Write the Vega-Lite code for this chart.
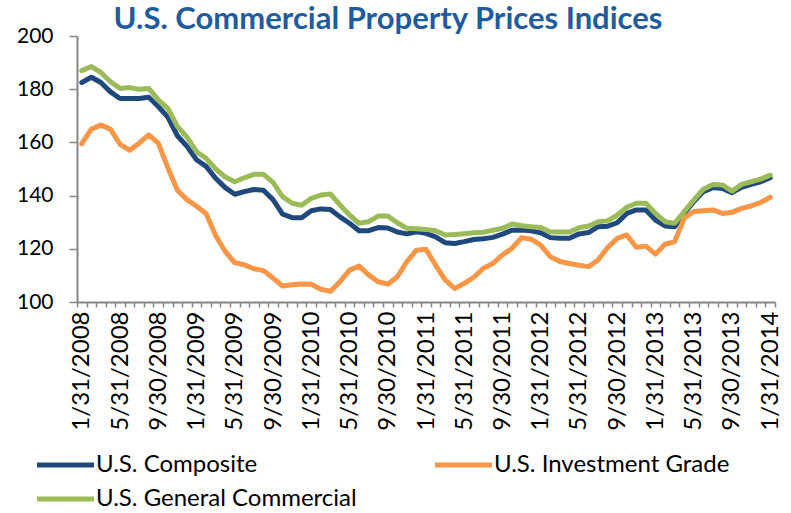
{
  "$schema": "https://vega.github.io/schema/vega-lite/v6.json",
  "width": 698,
  "height": 266,
  "autosize": {"type": "none"},
  "padding": {"left": 77, "top": 36, "right": 16, "bottom": 211},
  "background": "white",
  "title": {
    "text": "U.S. Commercial Property Prices Indices",
    "font": "Lato",
    "fontSize": 31,
    "fontWeight": "bold",
    "color": "#1F5C9E",
    "anchor": "middle",
    "baseline": "alphabetic",
    "dx": -38,
    "offset": -35
  },
  "config": {
    "view": {"stroke": null},
    "font": "Lato"
  },
  "data": {
    "values": [
      {"d": "1/31/2008", "a": 182.5, "b": 159.5, "c": 187},
      {"d": "2/29/2008", "a": 184.5, "b": 165, "c": 188.5},
      {"d": "3/31/2008", "a": 182.5, "b": 166.5, "c": 186.3},
      {"d": "4/30/2008", "a": 179, "b": 165, "c": 182.8},
      {"d": "5/31/2008", "a": 176.5, "b": 159.3, "c": 180.3},
      {"d": "6/30/2008", "a": 176.5, "b": 157.1, "c": 180.6},
      {"d": "7/31/2008", "a": 176.5, "b": 159.7, "c": 180},
      {"d": "8/31/2008", "a": 177, "b": 162.8, "c": 180.3},
      {"d": "9/30/2008", "a": 173.5, "b": 159.7, "c": 176},
      {"d": "10/31/2008", "a": 169.5, "b": 150.5, "c": 172.8},
      {"d": "11/30/2008", "a": 162.5, "b": 142, "c": 166},
      {"d": "12/31/2008", "a": 158.5, "b": 138.5, "c": 162},
      {"d": "1/31/2009", "a": 153.5, "b": 136, "c": 156.5},
      {"d": "2/28/2009", "a": 151, "b": 133.3, "c": 154},
      {"d": "3/31/2009", "a": 146.5, "b": 125, "c": 150},
      {"d": "4/30/2009", "a": 143, "b": 119, "c": 147},
      {"d": "5/31/2009", "a": 140.5, "b": 114.8, "c": 145.2},
      {"d": "6/30/2009", "a": 141.5, "b": 114, "c": 146.7},
      {"d": "7/31/2009", "a": 142.3, "b": 112.5, "c": 148},
      {"d": "8/31/2009", "a": 142, "b": 111.8, "c": 148},
      {"d": "9/30/2009", "a": 138.5, "b": 109, "c": 145},
      {"d": "10/31/2009", "a": 133, "b": 106, "c": 139.6},
      {"d": "11/30/2009", "a": 131.7, "b": 106.5, "c": 137.1},
      {"d": "12/31/2009", "a": 131.7, "b": 106.8, "c": 136.4},
      {"d": "1/31/2010", "a": 134.3, "b": 106.7, "c": 139},
      {"d": "2/28/2010", "a": 135, "b": 104.8, "c": 140.2},
      {"d": "3/31/2010", "a": 134.8, "b": 104, "c": 140.6},
      {"d": "4/30/2010", "a": 132, "b": 107.6, "c": 136.5},
      {"d": "5/31/2010", "a": 129.6, "b": 112, "c": 132.7},
      {"d": "6/30/2010", "a": 126.8, "b": 113.5, "c": 129.6},
      {"d": "7/31/2010", "a": 126.8, "b": 110.2, "c": 130.2},
      {"d": "8/31/2010", "a": 128, "b": 107.6, "c": 132.3},
      {"d": "9/30/2010", "a": 127.8, "b": 106.7, "c": 132.3},
      {"d": "10/31/2010", "a": 126.3, "b": 109.5, "c": 129.8},
      {"d": "11/30/2010", "a": 125.6, "b": 115.2, "c": 127.7},
      {"d": "12/31/2010", "a": 126.4, "b": 119.5, "c": 127.5},
      {"d": "1/31/2011", "a": 125.8, "b": 119.8, "c": 127.3},
      {"d": "2/28/2011", "a": 124.5, "b": 113.9, "c": 126.8},
      {"d": "3/31/2011", "a": 122.3, "b": 108.3, "c": 125.2},
      {"d": "4/30/2011", "a": 122, "b": 105.1, "c": 125.4},
      {"d": "5/31/2011", "a": 122.7, "b": 107, "c": 125.7},
      {"d": "6/30/2011", "a": 123.5, "b": 109.3, "c": 126},
      {"d": "7/31/2011", "a": 123.8, "b": 112.7, "c": 126.2},
      {"d": "8/31/2011", "a": 124.3, "b": 114.5, "c": 127},
      {"d": "9/30/2011", "a": 125.5, "b": 117.7, "c": 127.7},
      {"d": "10/31/2011", "a": 127, "b": 120.2, "c": 129.3},
      {"d": "11/30/2011", "a": 127.1, "b": 124.2, "c": 128.7},
      {"d": "12/31/2011", "a": 126.8, "b": 123.6, "c": 128.3},
      {"d": "1/31/2012", "a": 126, "b": 121.4, "c": 128},
      {"d": "2/29/2012", "a": 124.2, "b": 117, "c": 126.3},
      {"d": "3/31/2012", "a": 124, "b": 115.2, "c": 126.3},
      {"d": "4/30/2012", "a": 124, "b": 114.5, "c": 126.3},
      {"d": "5/31/2012", "a": 125.6, "b": 113.8, "c": 127.9},
      {"d": "6/30/2012", "a": 126.1, "b": 113.3, "c": 128.6},
      {"d": "7/31/2012", "a": 128.3, "b": 115.8, "c": 130.2},
      {"d": "8/31/2012", "a": 128.5, "b": 120.5, "c": 130.5},
      {"d": "9/30/2012", "a": 129.8, "b": 123.9, "c": 132.7},
      {"d": "10/31/2012", "a": 133.3, "b": 125.2, "c": 135.6},
      {"d": "11/30/2012", "a": 134.6, "b": 120.6, "c": 137.1},
      {"d": "12/31/2012", "a": 134.6, "b": 121, "c": 137.1},
      {"d": "1/31/2013", "a": 130.8, "b": 118, "c": 133.3},
      {"d": "2/28/2013", "a": 128.6, "b": 121.7, "c": 130.2},
      {"d": "3/31/2013", "a": 128.3, "b": 122.7, "c": 129.6},
      {"d": "4/30/2013", "a": 133.3, "b": 131.5, "c": 134},
      {"d": "5/31/2013", "a": 137.7, "b": 134, "c": 138.3},
      {"d": "6/30/2013", "a": 141.5, "b": 134.3, "c": 142.4},
      {"d": "7/31/2013", "a": 143, "b": 134.6, "c": 144.2},
      {"d": "8/31/2013", "a": 142.7, "b": 133.3, "c": 144},
      {"d": "9/30/2013", "a": 141.1, "b": 133.7, "c": 141.7},
      {"d": "10/31/2013", "a": 143.1, "b": 135.2, "c": 144.2},
      {"d": "11/30/2013", "a": 144.2, "b": 136.1, "c": 145.2},
      {"d": "12/31/2013", "a": 145.2, "b": 137.4, "c": 146.2},
      {"d": "1/31/2014", "a": 146.7, "b": 139.4, "c": 147.7}
    ]
  },
  "transform": [
    {"fold": ["a", "b", "c"], "as": ["s", "v"]}
  ],
  "mark": {"type": "line", "strokeWidth": 5, "strokeJoin": "round", "strokeCap": "round"},
  "encoding": {
    "x": {
      "field": "d",
      "type": "ordinal",
      "sort": null,
      "bandPosition": 0.5,
      "scale": {"type": "band", "paddingInner": 0, "paddingOuter": 0},
      "axis": {
        "title": null,
        "labelAngle": -90,
        "labelExpr": "test(/^(1|5|9)\\//, datum.value) ? datum.value : ''",
        "labelOverlap": false,
        "labelFont": "Lato",
        "labelFontSize": 24,
        "labelColor": "#000000",
        "labelPadding": 4,
        "tickBand": "extent",
        "tickSize": 5,
        "tickColor": "#868686",
        "tickWidth": 1.5,
        "domainColor": "#868686",
        "domainWidth": 2,
        "grid": false
      }
    },
    "y": {
      "field": "v",
      "type": "quantitative",
      "scale": {"domain": [100, 200], "nice": false, "zero": false},
      "axis": {
        "title": null,
        "values": [100, 120, 140, 160, 180, 200],
        "labelFont": "Lato",
        "labelFontSize": 21,
        "labelColor": "#000000",
        "labelPadding": 16,
        "tickSize": 8,
        "tickColor": "#868686",
        "tickWidth": 1.5,
        "domainColor": "#868686",
        "domainWidth": 2,
        "grid": false
      }
    },
    "color": {
      "field": "s",
      "type": "nominal",
      "sort": ["a", "c", "b"],
      "scale": {"domain": ["a", "c", "b"], "range": ["#1F497D", "#9BBB59", "#F79646"]},
      "legend": {
        "title": null,
        "orient": "none",
        "legendX": -23.5,
        "legendY": 417,
        "columns": 2,
        "columnPadding": 67,
        "rowPadding": 10,
        "symbolType": "M-5.7,0H5.7",
        "symbolSize": 100,
        "symbolStrokeWidth": 5,
        "labelOffset": 18.5,
        "labelFont": "Lato",
        "labelFontSize": 24,
        "labelColor": "#000000",
        "labelLimit": 400,
        "labelExpr": "datum.label == 'a' ? 'U.S. Composite' : datum.label == 'b' ? 'U.S. Investment Grade' : 'U.S. General Commercial'"
      }
    }
  }
}
